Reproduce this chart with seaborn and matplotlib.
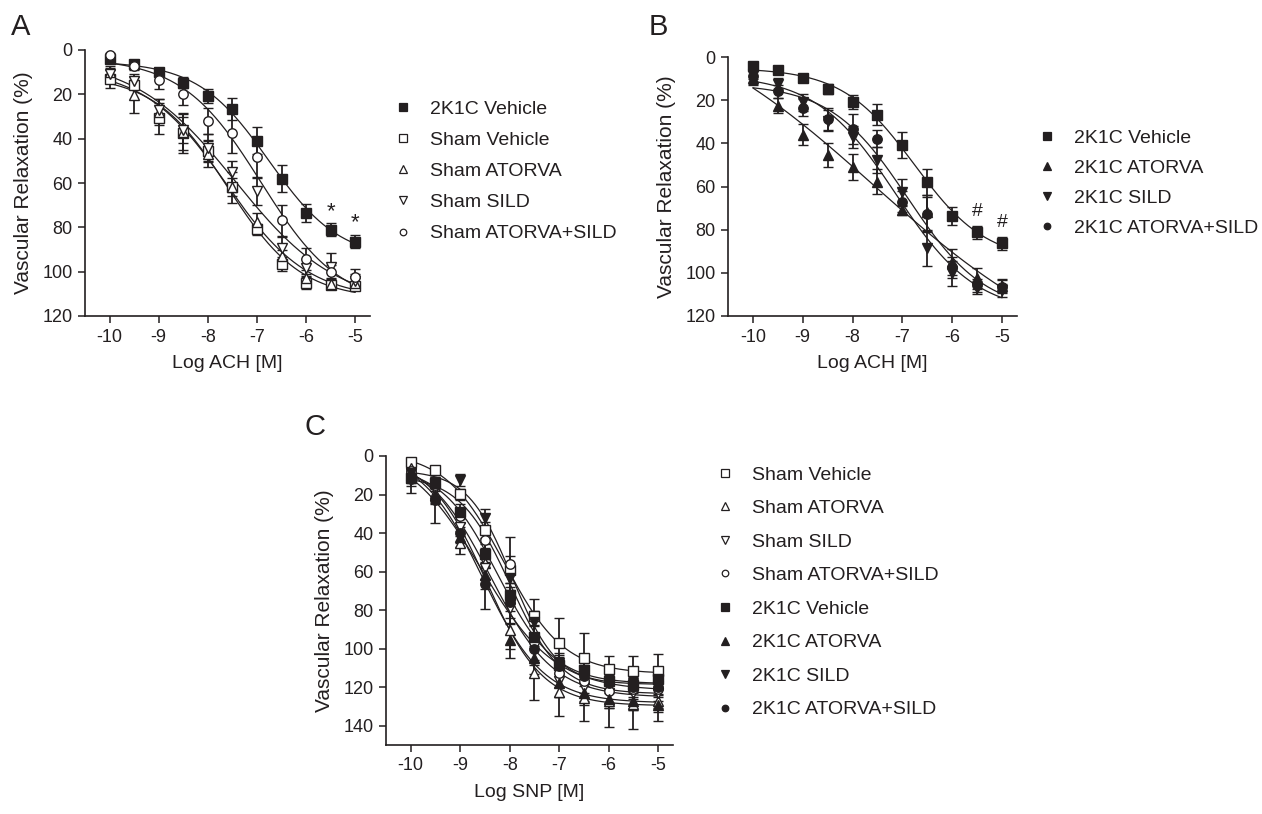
import numpy as np
import pandas as pd
import matplotlib
matplotlib.use("Agg")
import matplotlib.pyplot as plt
import seaborn as sns
from matplotlib.lines import Line2D

# ---- data ----
LOG_CONC = [-10, -9.5, -9, -8.5, -8, -7.5, -7, -6.5, -6, -5.5, -5]

# Panel A / B : acetylcholine, mean and SEM (% relaxation)
ACH_2K1C_VEH = [4.2, 6.2, 9.7, 14.8, 20.7, 26.7, 40.9, 58.1, 73.6, 81.1, 86.4]
ACH_2K1C_VEH_SEM = [1.5, 1.5, 1.5, 2.5, 3.2, 5.0, 6.0, 6.0, 4.1, 3.0, 3.1]
ACH_SHAM_VEH = [13.0, 15.7, 30.7, 37.4, 45.7, 61.7, 80.9, 96.6, 104.9, 105.9, 106.4]
ACH_SHAM_VEH_SEM = [4.0, 2.0, 7.0, 9.0, 5.0, 4.0, 2.5, 3.0, 3.0, 1.5, 1.5]
ACH_SHAM_ATORVA = [10.0, 20.2, 28.0, 37.0, 47.0, 62.0, 77.6, 93.0, 103.0, 105.5, 105.0]
ACH_SHAM_ATORVA_SEM = [3.0, 8.0, 6.0, 8.0, 6.0, 7.0, 4.0, 3.0, 2.0, 2.0, 2.0]
ACH_SHAM_SILD = [11.0, 14.0, 27.0, 36.0, 44.0, 55.0, 63.7, 89.4, 98.3, 97.7, 104.0]
ACH_SHAM_SILD_SEM = [3.0, 3.0, 5.0, 6.0, 6.0, 5.0, 6.0, 5.0, 4.0, 6.0, 3.0]
ACH_SHAM_COMBO = [2.2, 7.0, 13.5, 19.9, 32.0, 37.5, 48.4, 76.7, 94.4, 100.0, 102.6]
ACH_SHAM_COMBO_SEM = [1.0, 2.0, 4.0, 5.0, 6.0, 9.0, 9.0, 7.0, 5.0, 3.0, 4.0]
ACH_2K1C_ATORVA = [9.8, 22.6, 36.0, 45.4, 51.1, 57.7, 71.0, 72.0, 94.9, 102.6, 106.0]
ACH_2K1C_ATORVA_SEM = [3.0, 3.5, 5.0, 5.5, 6.0, 6.0, 2.0, 8.0, 6.0, 5.0, 3.0]
ACH_2K1C_SILD = [8.0, 12.4, 21.0, 29.5, 37.1, 47.7, 62.4, 88.7, 100.3, 107.0, 108.0]
ACH_2K1C_SILD_SEM = [2.0, 2.5, 4.0, 5.0, 5.0, 6.0, 6.0, 8.0, 6.0, 3.0, 3.0]
ACH_2K1C_COMBO = [8.7, 15.9, 23.4, 28.8, 33.4, 37.9, 67.0, 72.9, 97.5, 105.7, 106.5]
ACH_2K1C_COMBO_SEM = [4.0, 3.0, 4.0, 5.0, 7.0, 4.0, 5.0, 8.0, 5.0, 3.0, 3.0]

# Panel C : sodium nitroprusside
SNP_SHAM_VEH = [2.9, 7.3, 19.9, 38.4, 59.1, 83.0, 97.1, 104.9, 110.6, 111.8, 111.8]
SNP_SHAM_VEH_SEM = [2.0, 2.0, 3.0, 4.0, 7.0, 9.0, 13.0, 13.0, 7.0, 8.0, 9.0]
SNP_SHAM_ATORVA = [6.4, 19.4, 44.9, 55.7, 90.2, 112.7, 122.7, 125.6, 127.4, 128.6, 127.4]
SNP_SHAM_ATORVA_SEM = [3.0, 5.0, 6.0, 8.0, 10.0, 14.0, 12.0, 12.0, 13.0, 13.0, 10.0]
SNP_SHAM_SILD = [9.0, 17.0, 36.6, 58.0, 79.0, 97.0, 117.0, 120.0, 123.0, 123.0, 123.0]
SNP_SHAM_SILD_SEM = [3.0, 4.0, 5.0, 6.0, 8.0, 9.0, 8.0, 7.0, 8.0, 9.0, 8.0]
SNP_SHAM_COMBO = [8.0, 15.0, 31.0, 43.6, 56.2, 96.3, 112.7, 117.0, 122.0, 121.0, 121.0]
SNP_SHAM_COMBO_SEM = [3.0, 3.0, 4.0, 5.0, 14.0, 12.0, 7.0, 6.0, 6.0, 5.0, 6.0]
SNP_2K1C_VEH = [11.6, 13.8, 28.9, 50.8, 72.1, 93.7, 108.4, 111.3, 117.0, 118.7, 116.0]
SNP_2K1C_VEH_SEM = [4.0, 3.0, 4.0, 5.0, 6.0, 6.0, 5.0, 5.0, 4.0, 4.0, 5.0]
SNP_2K1C_ATORVA = [10.0, 20.0, 42.0, 62.0, 95.7, 104.9, 118.0, 123.0, 126.0, 127.0, 129.0]
SNP_2K1C_ATORVA_SEM = [4.0, 5.0, 5.0, 7.0, 9.0, 8.0, 7.0, 6.0, 5.0, 5.0, 4.0]
SNP_2K1C_SILD = [9.0, 14.2, 12.4, 32.3, 63.4, 86.4, 107.5, 111.0, 117.5, 119.0, 119.6]
SNP_2K1C_SILD_SEM = [2.0, 3.0, 3.0, 5.0, 6.0, 6.0, 5.0, 5.0, 4.0, 4.0, 4.0]
SNP_2K1C_COMBO = [12.0, 22.8, 40.0, 66.4, 76.0, 100.0, 109.2, 114.4, 118.0, 120.0, 120.0]
SNP_2K1C_COMBO_SEM = [7.0, 12.0, 5.0, 13.0, 8.0, 7.0, 5.0, 5.0, 5.0, 5.0, 4.0]

# marker, filled?
STYLE = {
    "2K1C Vehicle": ("s", True),
    "Sham Vehicle": ("s", False),
    "Sham ATORVA": ("^", False),
    "Sham SILD": ("v", False),
    "Sham ATORVA+SILD": ("o", False),
    "2K1C ATORVA": ("^", True),
    "2K1C SILD": ("v", True),
    "2K1C ATORVA+SILD": ("o", True),
}

panel_a = {
    "2K1C Vehicle": (ACH_2K1C_VEH, ACH_2K1C_VEH_SEM),
    "Sham Vehicle": (ACH_SHAM_VEH, ACH_SHAM_VEH_SEM),
    "Sham ATORVA": (ACH_SHAM_ATORVA, ACH_SHAM_ATORVA_SEM),
    "Sham SILD": (ACH_SHAM_SILD, ACH_SHAM_SILD_SEM),
    "Sham ATORVA+SILD": (ACH_SHAM_COMBO, ACH_SHAM_COMBO_SEM),
}
panel_b = {
    "2K1C Vehicle": (ACH_2K1C_VEH, ACH_2K1C_VEH_SEM),
    "2K1C ATORVA": (ACH_2K1C_ATORVA, ACH_2K1C_ATORVA_SEM),
    "2K1C SILD": (ACH_2K1C_SILD, ACH_2K1C_SILD_SEM),
    "2K1C ATORVA+SILD": (ACH_2K1C_COMBO, ACH_2K1C_COMBO_SEM),
}
panel_c = {
    "Sham Vehicle": (SNP_SHAM_VEH, SNP_SHAM_VEH_SEM),
    "Sham ATORVA": (SNP_SHAM_ATORVA, SNP_SHAM_ATORVA_SEM),
    "Sham SILD": (SNP_SHAM_SILD, SNP_SHAM_SILD_SEM),
    "Sham ATORVA+SILD": (SNP_SHAM_COMBO, SNP_SHAM_COMBO_SEM),
    "2K1C Vehicle": (SNP_2K1C_VEH, SNP_2K1C_VEH_SEM),
    "2K1C ATORVA": (SNP_2K1C_ATORVA, SNP_2K1C_ATORVA_SEM),
    "2K1C SILD": (SNP_2K1C_SILD, SNP_2K1C_SILD_SEM),
    "2K1C ATORVA+SILD": (SNP_2K1C_COMBO, SNP_2K1C_COMBO_SEM),
}


def fit_4pl(x, y):
    """Sigmoid fit: grid over logEC50 / Hill slope, bottom+top by least squares."""
    x = np.asarray(x, float)
    y = np.asarray(y, float)
    ec = np.arange(-11.0, -3.5, 0.01)
    hs = np.arange(0.2, 3.01, 0.02)
    S = 1.0 / (1.0 + 10.0 ** ((ec[:, None, None] - x[None, None, :]) * hs[None, :, None]))
    sm = S.mean(-1)
    ds = S - sm[..., None]
    b = (ds * (y - y.mean())).sum(-1) / (ds ** 2).sum(-1)
    a = y.mean() - b * sm
    sse = ((y - (a[..., None] + b[..., None] * S)) ** 2).sum(-1)
    i, j = np.unravel_index(np.argmin(sse), sse.shape)
    return ec[i], hs[j], a[i, j], b[i, j]


def curve_frame(groups):
    xs = np.linspace(LOG_CONC[0], LOG_CONC[-1], 300)
    parts = []
    for name, (mean, _) in groups.items():
        ec, h, a, b = fit_4pl(LOG_CONC, mean)
        parts.append(pd.DataFrame({"logc": xs,
                                   "value": a + b / (1 + 10 ** ((ec - xs) * h)),
                                   "group": name}))
    return pd.concat(parts, ignore_index=True)


sns.set_style("ticks")
plt.rcParams["font.family"] = ["Liberation Sans", "DejaVu Sans"]
plt.rcParams["axes.unicode_minus"] = False
INK = "#231f20"

W, H = 1262, 814
fig = plt.figure(figsize=(W / 100, H / 100), dpi=100)


def px_axes(left, top, right, bottom):
    return fig.add_axes([left / W, 1 - bottom / H, (right - left) / W, (bottom - top) / H])


def draw_panel(ax, groups, ymax, yticks, xlabel):
    curves = curve_frame(groups)
    sns.lineplot(data=curves, x="logc", y="value", units="group", estimator=None,
                 color=INK, lw=0.9, ax=ax, legend=False)
    for name, (mean, sem) in groups.items():
        mk, filled = STYLE[name]
        ax.errorbar(LOG_CONC, mean, yerr=sem, fmt=mk, ms=7.4 if mk != "o" else 6.8,
                    mfc=INK if filled else "white", mec=INK, mew=1.0,
                    ecolor=INK, elinewidth=1.3, capsize=3.8, capthick=1.7,
                    clip_on=False, zorder=3)
    ax.set_xlim(-10.5, -4.7)
    ax.set_ylim(ymax, 0)
    ax.set_xticks([-10, -9, -8, -7, -6, -5])
    ax.set_xticklabels(["-10", "-9", "-8", "-7", "-6", "-5"])
    ax.set_yticks(yticks)
    ax.set_xlabel(xlabel, fontsize=14, color=INK, labelpad=7)
    ax.set_ylabel("Vascular Relaxation (%)", fontsize=15, color=INK, labelpad=7)
    ax.tick_params(labelsize=13, colors=INK, length=5, width=1.1, pad=4)
    sns.despine(ax=ax)
    for s in ("left", "bottom"):
        ax.spines[s].set_linewidth(1.2)
        ax.spines[s].set_color(INK)
    handles = []
    for name in groups:
        mk, filled = STYLE[name]
        handles.append(Line2D([], [], marker=mk, ls="none", ms=5.2 if mk != "o" else 4.7,
                              mfc=INK if filled else "white", mec=INK, mew=0.9))
    return handles


def add_legend(ax, handles, labels, x, y, spacing):
    ax.legend(handles, labels, loc="upper left", bbox_to_anchor=(x / W, 1 - y / H),
              bbox_transform=fig.transFigure, frameon=False, fontsize=14,
              borderpad=0, borderaxespad=0, handlelength=1.0, handletextpad=0.9,
              labelspacing=spacing, labelcolor=INK)


# ---- A ----
ax_a = px_axes(85, 50, 370, 316)
h_a = draw_panel(ax_a, panel_a, 120, range(0, 121, 20), "Log ACH [M]")
add_legend(ax_a, h_a, list(panel_a), 393, 100, 0.70)
for xv, m, s in zip(LOG_CONC[-2:], ACH_2K1C_VEH[-2:], ACH_2K1C_VEH_SEM[-2:]):
    ax_a.annotate("*", (xv, m - s), xytext=(0, 1), textcoords="offset points",
                  ha="center", va="bottom", fontsize=16, color=INK)

# ---- B ----
ax_b = px_axes(728, 57, 1017, 316)
h_b = draw_panel(ax_b, panel_b, 120, range(0, 121, 20), "Log ACH [M]")
add_legend(ax_b, h_b, list(panel_b), 1037, 129, 0.64)
for xv, m, s in zip(LOG_CONC[-2:], ACH_2K1C_VEH[-2:], ACH_2K1C_VEH_SEM[-2:]):
    ax_b.annotate("#", (xv, m - s), xytext=(0, 4), textcoords="offset points",
                  ha="center", va="bottom", fontsize=14, color=INK)

# ---- C ----
ax_c = px_axes(386, 456, 673, 745)
h_c = draw_panel(ax_c, panel_c, 150, range(0, 141, 20), "Log SNP [M]")
add_legend(ax_c, h_c, list(panel_c), 715, 466, 0.82)

for lab, xp, yp in [("A", 11, 13), ("B", 649, 13), ("C", 304, 413)]:
    fig.text(xp / W, 1 - yp / H, lab, fontsize=21, color=INK, ha="left", va="top")

fig.savefig("out.png", dpi=100)
